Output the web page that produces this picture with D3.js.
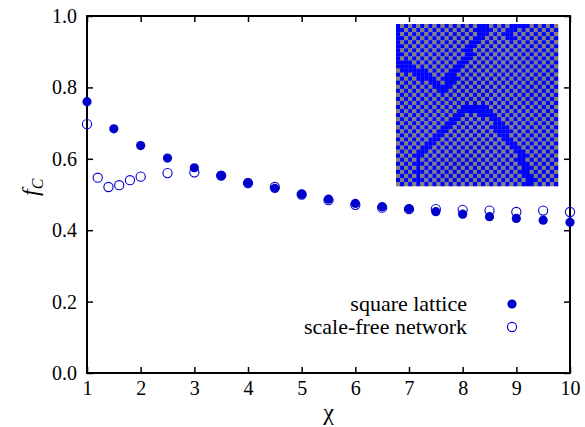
<!DOCTYPE html>
<html>
<head>
<meta charset="utf-8">
<script src="https://cdn.jsdelivr.net/npm/d3@7"></script>
<style>
  body { margin: 0; background: #fff; }
  svg text { font-family: "Liberation Serif", "Times New Roman", Times, "Noto Serif", FreeSerif, "DejaVu Serif", serif; }
</style>
</head>
<body>
<div class="chart"></div>
<script>
(function(){

// square lattice (filled markers)
var chiLattice = [1, 1.5, 2, 2.5, 3, 3.5, 4, 4.5, 5, 5.5, 6, 6.5, 7, 7.5, 8, 8.5, 9, 9.5, 10];
var fcLattice  = [0.760, 0.684, 0.637, 0.602, 0.575, 0.553, 0.533, 0.517, 0.501, 0.487, 0.475, 0.466, 0.460,
                  0.452, 0.445, 0.438, 0.433, 0.428, 0.422];

// scale-free network (open markers)
var chiScaleFree = [1, 1.2, 1.4, 1.6, 1.8, 2, 2.5, 3, 3.5, 4, 4.5, 5, 5.5, 6, 6.5, 7, 7.5, 8, 8.5, 9, 9.5, 10];
var fcScaleFree  = [0.697, 0.547, 0.521, 0.526, 0.540, 0.550, 0.560, 0.562, 0.553, 0.532, 0.521, 0.500, 0.484,
                    0.471, 0.463, 0.459, 0.459, 0.457, 0.455, 0.451, 0.455, 0.451];

var xTicks = [1, 2, 3, 4, 5, 6, 7, 8, 9, 10];
var yTicks = [0, 0.2, 0.4, 0.6, 0.8, 1.0];
var legendLabels = ["square lattice", "scale-free network"];

// inset snapshot: 40x40 lattice, domain walls as polylines (col,row)
var latticeSize = 40;
var latticeWalls = [
    [[0, -1], [0, 9]],
    [[0, 9], [2, 10], [5, 11.5], [8, 13], [11, 15.5], [13, 13], [15, 10], [17, 7.5], [19, 4], [21, 1], [22, -1]],
    [[32, -1], [29, 0], [27.5, 1], [27.5, 3]],
    [[18, 20], [15, 22], [12, 25], [9, 28], [6, 30.5], [5, 33], [5, 40]],
    [[18, 20], [20, 20.5], [23, 22], [25, 25], [27.5, 28], [30, 31], [31, 34], [32, 37], [33, 40]]
];

var serif = "'Liberation Serif', 'Times New Roman', Times, 'Noto Serif', FreeSerif, 'DejaVu Serif', serif";

var width = 585,
    height = 427;

var svg = d3.select(".chart")
    .append("svg")
    .attr("width", width)
    .attr("height", height)
    .attr("font-family", serif);

var x = d3.scaleLinear().domain([1, 10]).range([87, 570]);
var y = d3.scaleLinear().domain([0, 1]).range([373, 16]);

var markColor = "#0000cc";

// axes, ticks pointing inward on all four sides
svg.append("g")
    .attr("class", "axis")
    .attr("transform", "translate(0," + y(0) + ")")
    .call(d3.axisBottom(x).tickValues(xTicks).tickSize(-6).tickPadding(8).tickFormat(d3.format("d")));
svg.append("g")
    .attr("class", "axis")
    .attr("transform", "translate(" + x(1) + ",0)")
    .call(d3.axisLeft(y).tickValues(yTicks).tickSize(-6).tickPadding(10).tickFormat(d3.format(".1f")));
svg.append("g")
    .attr("class", "axis")
    .attr("transform", "translate(0," + y(1) + ")")
    .call(d3.axisTop(x).tickValues(xTicks).tickSize(-6).tickFormat(""));
svg.append("g")
    .attr("class", "axis")
    .attr("transform", "translate(" + x(10) + ",0)")
    .call(d3.axisRight(y).tickValues(yTicks).tickSize(-6).tickFormat(""));

svg.selectAll(".axis").attr("font-family", serif).attr("font-size", 20);
svg.selectAll(".axis .domain").remove();
svg.selectAll(".axis line").attr("stroke", "#000").attr("stroke-width", 1.5);
svg.selectAll(".axis text").attr("fill", "#000");

svg.append("rect")
    .attr("x", x(1))
    .attr("y", y(1))
    .attr("width", x(10) - x(1))
    .attr("height", y(0) - y(1))
    .attr("fill", "none")
    .attr("stroke", "#000")
    .attr("stroke-width", 2);

// axis titles
svg.append("text")
    .attr("x", (x(1) + x(10)) / 2)
    .attr("y", 420)
    .attr("text-anchor", "middle")
    .attr("font-size", 24)
    .text("\u03c7");

var yTitle = svg.append("text")
    .attr("transform", "translate(38," + y(0.52) + ") rotate(-90)")
    .attr("text-anchor", "middle")
    .attr("font-size", 24)
    .attr("font-style", "italic");
yTitle.append("tspan").text("f");
yTitle.append("tspan").attr("dy", 5).attr("font-size", 16).text("C");

// inset lattice
var cell = d3.scaleBand().domain(d3.range(latticeSize)).range([0, 162]);
var inset = svg.append("g").attr("transform", "translate(396,24)");

function distToSeg(px, py, a, b){
    var dx = b[0] - a[0], dy = b[1] - a[1];
    var t = ((px - a[0]) * dx + (py - a[1]) * dy) / (dx * dx + dy * dy);
    t = Math.max(0, Math.min(1, t));
    var qx = a[0] + t * dx - px, qy = a[1] + t * dy - py;
    return Math.sqrt(qx * qx + qy * qy);
}

function onWall(c, r){
    for (var i = 0; i < latticeWalls.length; i++){
        var w = latticeWalls[i];
        for (var k = 0; k < w.length - 1; k++){
            if (distToSeg(c, r, w[k], w[k + 1]) < 0.9) return true;
        }
    }
    return false;
}

var cells = [];
d3.range(latticeSize).forEach(function(r){
    d3.range(latticeSize).forEach(function(c){
        cells.push({c: c, r: r, coop: ((c + r) % 2 === 0) || onWall(c, r)});
    });
});

inset.selectAll("rect")
    .data(cells)
    .enter()
    .append("rect")
    .attr("x", function(d){ return cell(d.c); })
    .attr("y", function(d){ return cell(d.r); })
    .attr("width", cell.bandwidth() + 0.3)
    .attr("height", cell.bandwidth() + 0.3)
    .attr("fill", function(d){ return d.coop ? "#0000ff" : "#808080"; });

// data points: open first, filled on top
svg.selectAll(".sf")
    .data(chiScaleFree)
    .enter()
    .append("circle")
    .attr("class", "sf")
    .attr("cx", function(d){ return x(d); })
    .attr("cy", function(d, i){ return y(fcScaleFree[i]); })
    .attr("r", 4.6)
    .attr("fill", "none")
    .attr("stroke", markColor)
    .attr("stroke-width", 1.1);

svg.selectAll(".sq")
    .data(chiLattice)
    .enter()
    .append("circle")
    .attr("class", "sq")
    .attr("cx", function(d){ return x(d); })
    .attr("cy", function(d, i){ return y(fcLattice[i]); })
    .attr("r", 4.6)
    .attr("fill", markColor);

// legend
var legend = svg.append("g");
legendLabels.forEach(function(lab, i){
    var ly = 304 + i * 23;
    legend.append("text")
        .attr("x", 467)
        .attr("y", ly + 7)
        .attr("text-anchor", "end")
        .attr("font-size", 22)
        .text(lab);
    legend.append("circle")
        .attr("cx", 512)
        .attr("cy", ly)
        .attr("r", 4.6)
        .attr("fill", i === 0 ? markColor : "none")
        .attr("stroke", markColor)
        .attr("stroke-width", i === 0 ? 0 : 1.1);
});

})();
</script>
</body>
</html>
